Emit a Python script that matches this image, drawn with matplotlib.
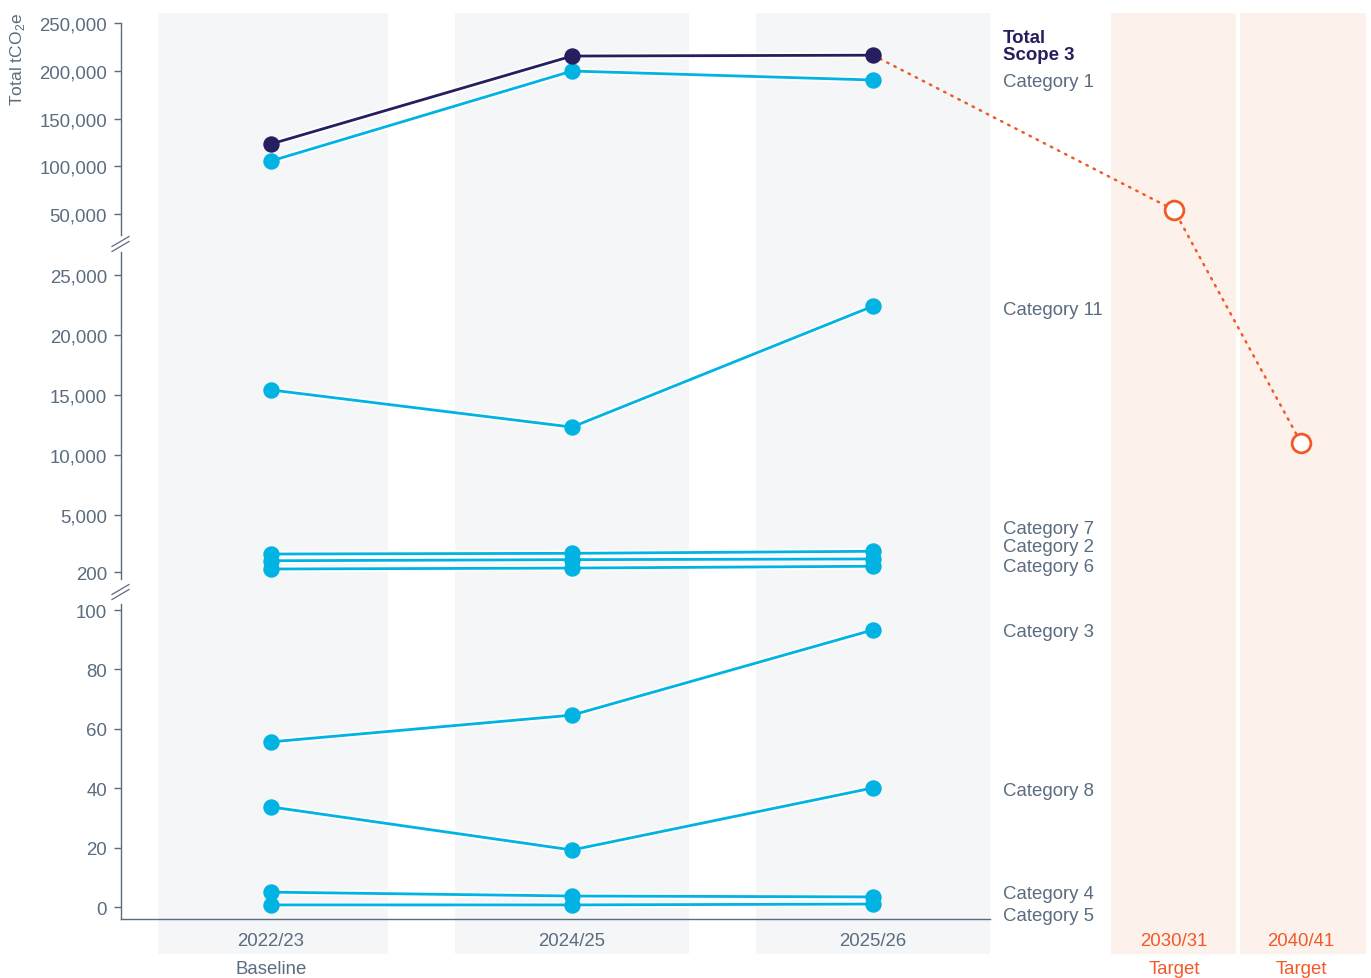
import numpy as np
import matplotlib.pyplot as plt
from matplotlib import patheffects as pe
from matplotlib.lines import Line2D
from matplotlib.ticker import FuncFormatter

plt.rcParams['font.family'] = ['Liberation Sans', 'DejaVu Sans']
plt.rcParams['mathtext.fontset'] = 'custom'
plt.rcParams['mathtext.rm'] = 'Liberation Sans'

# data
periods = ['2022/23', '2024/25', '2025/26']
target_periods = ['2030/31', '2040/41']
total_scope3 = [123300, 215400, 216300]
target_values = [54200, 11000]
cat1 = [105500, 199700, 190300]
cat11 = [15400, 12300, 22400]
cat7 = [1700, 1760, 1930]
cat2 = [1140, 1230, 1290]
cat6 = [450, 530, 680]
cat3 = [55.6, 64.6, 93.3]
cat8 = [33.7, 19.2, 40.1]
cat4 = [5.0, 3.7, 3.4]
cat5 = [0.7, 0.7, 1.0]
categories = [cat1, cat11, cat7, cat2, cat6, cat3, cat8, cat4, cat5]
cat_names = ['Category 1', 'Category 11', 'Category 7', 'Category 2', 'Category 6',
             'Category 3', 'Category 8', 'Category 4', 'Category 5']

NAVY = '#251e5f'
CYAN = '#00b3e3'
ORANGE = '#f05a28'
SLATE = '#5a6c7f'
GREY_BG = '#f4f6f8'
PEACH_BG = '#fdf1eb'
FS = 13.4

W, H = 1371, 979

# broken y scale: values -> pixel rows (piecewise linear)
brk_vals = np.array([-1e4, 0, 100, 200, 25000, 50000, 250000, 1e7])
brk_pix = np.array([908 + 2.97e4, 908, 611, 573, 276, 215, 24, 24 - 0.000955 * (1e7 - 250000)])


def fwd(v):
    return np.interp(v, brk_vals, -brk_pix)


def inv(u):
    return np.interp(u, -brk_pix, brk_vals)


def fig_xy(x, y):
    return x / W, 1 - y / H


fig = plt.figure(figsize=(W / 100, H / 100), dpi=100)
ax_left, ax_right, ax_top, ax_bot = 121, 1366, 14, 955
ax = fig.add_axes([ax_left / W, 1 - ax_bot / H, (ax_right - ax_left) / W, (ax_bot - ax_top) / H])
ax.set_yscale('function', functions=(fwd, inv))
ax.set_ylim(inv(-ax_bot), inv(-ax_top))

# x: one unit = 301 px, first period at 271 px
x_unit, x0 = 301, 271
ax.set_xlim((ax_left - x0) / x_unit, (ax_right - x0) / x_unit)
xs = np.arange(len(periods))
xt = [3, 3 + 127 / x_unit]

# background columns
for a, b in [(-0.375, 0.389), (0.611, 1.389), (1.611, 2.389)]:
    ax.axvspan(a, b, color=GREY_BG, lw=0, zorder=0)
for a, b in [(2.791, 3.206), (3.219, 3.638)]:
    ax.axvspan(a, b, color=PEACH_BG, lw=0, zorder=0)

halo = [pe.Stroke(linewidth=4.5, foreground='white'), pe.Normal()]
for vals in categories:
    ax.plot(xs, vals, color=CYAN, lw=2, zorder=3, path_effects=halo)
    ax.plot(xs, vals, 'o', color=CYAN, ms=10.8, zorder=4)
ax.plot(xs, total_scope3, color=NAVY, lw=2, zorder=5, path_effects=halo)
ax.plot(xs, total_scope3, 'o', color=NAVY, ms=10.8, zorder=6)

# target path
ax.plot([xs[-1]] + xt, [total_scope3[-1]] + target_values, color=ORANGE, lw=1.8,
        ls=(0, (0.6, 2.6)), dash_capstyle='round', zorder=2)
ax.plot(xt, target_values, 'o', ms=13.5, mfc='white', mec=ORANGE, mew=2, zorder=6)

# axes decoration
for s in ax.spines.values():
    s.set_visible(False)
yticks = [0, 20, 40, 60, 80, 100, 200, 5000, 10000, 15000, 20000, 25000,
          50000, 100000, 150000, 200000, 250000]
ax.set_yticks(yticks)
ax.yaxis.set_major_formatter(FuncFormatter(lambda v, p: f'{v:,.0f}'))
ax.yaxis.set_minor_locator(plt.NullLocator())
ax.tick_params(axis='y', colors=SLATE, labelsize=FS, length=5, width=1, pad=5)
ax.set_xticks([])

for y1, y2 in [(24, 236), (253, 580), (605, 920)]:
    fig.add_artist(Line2D(*zip(fig_xy(121, y1), fig_xy(121, y2)), color=SLATE, lw=1))
for yc in [245, 593]:
    for d in (-2.5, 2.5):
        fig.add_artist(Line2D(*zip(fig_xy(112, yc + d + 5), fig_xy(129, yc + d - 5)), color=SLATE, lw=0.9))
fig.add_artist(Line2D(*zip(fig_xy(121, 920), fig_xy(990, 920)), color=SLATE, lw=1))

fig.text(*fig_xy(18, 59), 'Total tCO$_2$e', rotation=90, color=SLATE, fontsize=12.6,
         ha='center', va='center')

# x labels
xtr = ax.get_xaxis_transform()
for x, lab in zip(xs, periods):
    ax.text(x, 0.0145, lab, transform=xtr, color=SLATE, fontsize=FS, ha='center', va='center')
ax.text(xs[0], -0.0155, 'Baseline', transform=xtr, color=SLATE,
        fontsize=FS, ha='center', va='center', clip_on=False)
for x, lab in zip(xt, target_periods):
    ax.text(x, 0.0145, lab, transform=xtr, color=ORANGE, fontsize=FS, ha='center', va='center')
    ax.text(x, -0.0155, 'Target', transform=xtr, color=ORANGE,
            fontsize=FS, ha='center', va='center', clip_on=False)

# series labels
fig.text(*fig_xy(1003, 47.5), 'Total\nScope 3', color=NAVY, fontsize=FS, fontweight='bold',
         ha='left', va='center', linespacing=1.0)
label_rows = [83, 311, 529, 548, 567, 633, 792, 895, 917]
for name, py in zip(cat_names, label_rows):
    fig.text(*fig_xy(1003, py), name, color=SLATE, fontsize=FS, ha='left', va='center')

fig.savefig('out.png', dpi=100)
